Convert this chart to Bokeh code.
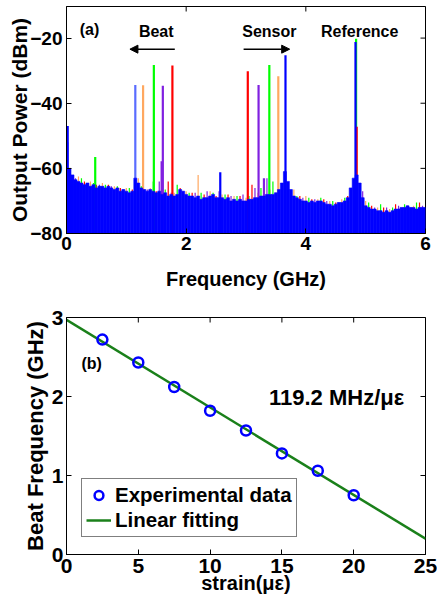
import numpy as np
from bokeh.plotting import figure
from bokeh.models import (FixedTicker, Range1d, Label, Arrow,
                          NormalHead, Legend, LegendItem)
from bokeh.layouts import column
from bokeh.embed import file_html
from bokeh.resources import INLINE

FONT = "Liberation Sans"

# ---------------- panel (a) data ----------------
# blue trace noise-floor envelope, sampled every 0.05 GHz from 0 to 6 GHz (dBm)
blue_noise = [
    -52, -60, -62, -63.5, -64, -64.5, -65, -64.5, -65.5, -65,
    -66, -65.5, -65.5, -66, -65.5, -66, -66.5, -66, -67, -66.5,
    -67, -67.5, -67, -63, -64.5, -66, -66.5, -67, -66.5, -67,
    -67.5, -67, -68, -67.5, -68.5, -68, -68.5, -68, -66.5, -67,
    -68, -68.5, -68.5, -69, -68.5, -69.5, -69, -69, -68.5, -68,
    -69, -69, -69, -69.5, -69, -70, -69.5, -70, -69.5, -70,
    -70, -69.5, -69.5, -69, -69, -68.5, -68.5, -68, -68, -68,
    -67.5, -66.5, -64.5, -61, -64, -66.5, -68.5, -69, -69.5, -70,
    -70, -70.5, -70, -70.5, -70, -70, -70.5, -71, -71, -71.5,
    -71, -70.5, -70.5, -70, -69, -66, -63, -62, -64.5, -69,
    -71.5, -72, -72.5, -72.5, -73, -73, -73.5, -73, -73.5, -73,
    -72.5, -72.5, -72, -72, -71.5, -72, -72, -72.5, -72, -72,
    -72,
]
freq_blue = np.round(np.arange(len(blue_noise)) * 0.05, 3)

# other traces' noise spikes, each sampled every 0.2 GHz (with its own start)
orange_noise = [-52.6, -62.5, -64, -64.5, -65.5, -66, -63, -66, -66.5, -67.5,
                -67, -62, -67, -68, -68.5, -69, -67.5, -66.5, -67, -66.5,
                -68.5, -69.5, -70, -69.5, -64, -70, -72, -72.5, -72, -71.5]
green_noise = [-61, -63, -64.5, -65, -65.5, -66, -65.5, -64, -66.5, -65,
               -67.5, -67.5, -67.5, -68, -68.5, -68.5, -66, -64, -66, -68.5,
               -69, -69, -70, -69, -63, -70.5, -71, -72, -71, -70.5]
red_noise = [-62, -64, -65, -65, -66, -66.5, -66.5, -67, -64, -66,
             -67.5, -68, -68.5, -68, -68.5, -65, -68, -67.5, -67, -68.5,
             -69.5, -69.5, -70.5, -68.5, -66, -71.5, -72, -71, -71.5, -70.5]
purple_noise = [-63, -64.5, -65, -65.5, -66.5, -66, -66.5, -64, -67.5, -67,
                -67.5, -67, -67, -68.5, -68, -66, -63, -68, -67, -69,
                -69.5, -70, -70.5, -68, -67, -72, -72, -71.5, -72, -71.5]
freq_orange = np.round(np.arange(len(orange_noise)) * 0.2 + 0.00, 3)
freq_green = np.round(np.arange(len(green_noise)) * 0.2 + 0.05, 3)
freq_red = np.round(np.arange(len(red_noise)) * 0.2 + 0.10, 3)
freq_purple = np.round(np.arange(len(purple_noise)) * 0.2 + 0.15, 3)

# spectral peaks (GHz, dBm)
blue_peak_f = [0.02, 2.57, 3.66, 4.83]
blue_peak_db = [-47, -61.2, -25.3, -21.2]
blue_beat_f = [1.15]
blue_beat_db = [-34.4]
orange_peak_f = [1.28, 3.54]
orange_peak_db = [-34.5, -31.7]
green_peak_f = [0.48, 1.46, 3.39, 4.84]
green_peak_db = [-56.5, -28.3, -28.3, -20.2]
purple_peak_f = [1.59, 1.61, 3.21, 3.30]
purple_peak_db = [-57.8, -34.6, -34.4, -63]
red_peak_f = [1.77, 3.03, 4.85]
red_peak_db = [-28.4, -30.2, -47.2]

spec_xticks = [0, 2, 4, 6]
spec_yticks = [-80, -60, -40, -20]

# ---------------- panel (b) data ----------------
strain = [2.5, 5, 7.5, 10, 12.5, 15, 17.5, 20]
beat_freq = [2.72, 2.43, 2.12, 1.82, 1.57, 1.28, 1.06, 0.75]
fit_strain = [0, 25]
fit_freq = [2.97, 0.20]
strain_ticks = [0, 5, 10, 15, 20, 25]
beat_ticks = [0, 1, 2, 3]

BLUE = "#0000ff"
ORANGE = "#ffa860"
GREEN = "#00ff00"
RED = "#ff0000"
PURPLE = "#8020e0"
LBLUE = "#5a6cff"


def style_axis(ax, ticks, fs, label_fs):
    ax.ticker = FixedTicker(ticks=ticks)
    ax.major_tick_in = 5
    ax.major_tick_out = 0
    ax.minor_tick_line_color = None
    ax.axis_line_color = "black"
    ax.major_tick_line_color = "black"
    ax.major_label_text_font = FONT
    ax.major_label_text_font_style = "bold"
    ax.major_label_text_font_size = fs
    ax.major_label_text_color = "black"
    ax.axis_label_text_font = FONT
    ax.axis_label_text_font_style = "bold"
    ax.axis_label_text_font_size = label_fs
    ax.axis_label_text_color = "black"


def mirror_ticks(p, xticks, yticks, xr, yr):
    # inward ticks on the top and right edges (dash markers, clipped to frame)
    p.scatter(x=xticks, y=[yr.end] * len(xticks), marker="dash", size=10,
              angle=np.pi / 2, line_color="black", line_width=1)
    p.scatter(x=[xr.end] * len(yticks), y=yticks, marker="dash", size=10,
              line_color="black", line_width=1)


# ---------------- figure (a) ----------------
xr1, yr1 = Range1d(0, 6), Range1d(-80, -10.3)
p1 = figure(width=437, height=292, x_range=xr1, y_range=yr1,
            output_backend="svg", toolbar_location=None,
            min_border_left=66, min_border_right=12, min_border_top=6, min_border_bottom=58)
p1.xgrid.visible = False
p1.ygrid.visible = False
p1.outline_line_color = "black"
p1.background_fill_color = "white"
style_axis(p1.xaxis[0], spec_xticks, "19px", "20px")
style_axis(p1.yaxis[0], spec_yticks, "19px", "21px")
p1.xaxis.axis_label = "Frequency (GHz)"
p1.yaxis.axis_label = "Output Power (dBm)"
p1.xaxis.major_label_standoff = 3
p1.xaxis.axis_label_standoff = 15
p1.yaxis.major_label_standoff = 4
p1.yaxis.axis_label_standoff = -4

for f, lv, c in [(freq_orange, orange_noise, ORANGE), (freq_purple, purple_noise, PURPLE),
                 (freq_green, green_noise, GREEN), (freq_red, red_noise, RED)]:
    p1.vbar(x=f, width=0.02, bottom=-80, top=lv, color=c, line_width=0)

for f, lv, c in [(orange_peak_f, orange_peak_db, ORANGE), (purple_peak_f, purple_peak_db, PURPLE),
                 (green_peak_f, green_peak_db, GREEN), (red_peak_f, red_peak_db, RED),
                 (blue_beat_f, blue_beat_db, LBLUE)]:
    p1.segment(x0=f, y0=[-80] * len(f), x1=f, y1=lv, line_color=c, line_width=2.2)

p1.vbar(x=freq_blue, width=0.05, bottom=-80, top=blue_noise, fill_color=BLUE,
        line_color=BLUE, line_width=0.6)
p1.segment(x0=blue_peak_f, y0=[-80] * len(blue_peak_f), x1=blue_peak_f, y1=blue_peak_db,
           line_color=BLUE, line_width=2.2)
mirror_ticks(p1, spec_xticks, spec_yticks, xr1, yr1)


def add_label(p, x, y, text, size, align="center"):
    p.add_layout(Label(x=x, y=y, text=text, text_font=FONT, text_font_style="bold",
                       text_font_size=size, text_align=align, text_baseline="middle",
                       text_color="black"))


add_label(p1, 0.22, -17.3, "(a)", "16px", "left")
add_label(p1, 1.5, -18.1, "Beat", "16px")
add_label(p1, 3.39, -18.1, "Sensor", "16px")
add_label(p1, 4.9, -18.1, "Reference", "16px")
p1.add_layout(Arrow(end=NormalHead(size=8, fill_color="black", line_color="black"),
                    x_start=1.81, y_start=-23.4, x_end=1.06, y_end=-23.4,
                    line_width=1.5, line_color="black"))
p1.add_layout(Arrow(end=NormalHead(size=8, fill_color="black", line_color="black"),
                    x_start=2.96, y_start=-23.4, x_end=3.73, y_end=-23.4,
                    line_width=1.5, line_color="black"))

# ---------------- figure (b) ----------------
xr2, yr2 = Range1d(0, 25), Range1d(0, 3)
p2 = figure(width=437, height=310, x_range=xr2, y_range=yr2,
            output_backend="svg", toolbar_location=None,
            min_border_left=66, min_border_right=12, min_border_top=25, min_border_bottom=48)
p2.xgrid.visible = False
p2.ygrid.visible = False
p2.outline_line_color = "black"
style_axis(p2.xaxis[0], strain_ticks, "21px", "20px")
style_axis(p2.yaxis[0], beat_ticks, "21px", "22px")
p2.xaxis.axis_label = "strain(με)"
p2.yaxis.axis_label = "Beat Frequency (GHz)"
p2.xaxis.major_label_standoff = 4
p2.xaxis.axis_label_standoff = -4
p2.yaxis.major_label_standoff = 3
p2.yaxis.axis_label_standoff = 1

ln = p2.line(fit_strain, fit_freq, line_color="#1a801a", line_width=2.5)
sc = p2.scatter(strain, beat_freq, marker="circle", size=10, fill_color=None,
                line_color=BLUE, line_width=2.5)
mirror_ticks(p2, strain_ticks, beat_ticks, xr2, yr2)

add_label(p2, 1.04, 2.42, "(b)", "16px", "left")
add_label(p2, 14.1, 1.99, "119.2 MHz/με", "22px", "left")

legend = Legend(items=[LegendItem(label="Experimental data", renderers=[sc]),
                       LegendItem(label="Linear fitting", renderers=[ln])],
                location=(15, 17))
legend.label_text_font = FONT
legend.label_text_font_style = "bold"
legend.label_text_font_size = "20.5px"
legend.label_text_color = "black"
legend.glyph_width = 25
legend.glyph_height = 22
legend.label_height = 22
legend.label_standoff = 4
legend.spacing = 1
legend.padding = 4
legend.margin = 0
legend.border_line_color = "black"
legend.border_line_width = 1
legend.background_fill_alpha = 1
p2.add_layout(legend)

layout = column(p1, p2, spacing=0)
open("out.html", "w").write(file_html(layout, INLINE))
